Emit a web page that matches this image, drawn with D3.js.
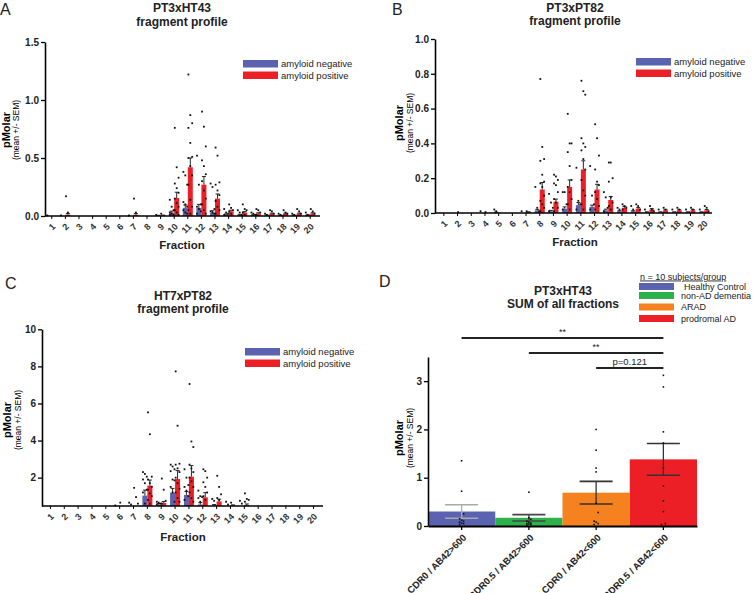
<!DOCTYPE html>
<html>
<head>
<meta charset="utf-8">
<script src="https://cdn.jsdelivr.net/npm/d3@7"></script>
<style>
body { margin: 0; background: #fff; }
text { font-family: "Liberation Sans", Arial, sans-serif; }
</style>
</head>
<body>
<div id="chart"></div>
<script>
// fraction categories (x axis of panels A-C)
var fractions = ["1","2","3","4","5","6","7","8","9","10","11","12","13","14","15","16","17","18","19","20"];

// Panel A: PT3xHT43
var aNegMean = [0,0,0,0,0,0,0,0,0.004,0.03,0.07,0.07,0.03,0.012,0.01,0.008,0.005,0.005,0.005,0.008];
var aNegSem  = [0,0,0,0,0,0,0,0,0.002,0.012,0.025,0.03,0.015,0.005,0.004,0.003,0.003,0.003,0.003,0.003];
var aPosMean = [0,0.012,0,0,0,0,0.012,0,0.005,0.155,0.42,0.27,0.15,0.04,0.03,0.022,0.02,0.02,0.02,0.022];
var aPosSem  = [0,0.01,0,0,0,0,0.01,0,0.003,0.05,0.08,0.07,0.04,0.01,0.008,0.006,0.005,0.005,0.005,0.006];
var aNegDots = [[0.005],[0.005],[],[],[],[],[0.005],[],[0.01],
  [0.14,0.08,0.05,0.03,0.02,0.01,0.01],
  [0.38,0.35,0.27,0.12,0.1,0.08,0.05,0.03,0.02],
  [0.52,0.27,0.1,0.08,0.06,0.04,0.02],
  [0.28,0.25,0.06,0.04,0.03,0.02],
  [0.06,0.03,0.02,0.01],[0.05,0.03,0.01],[0.03,0.02,0.01],[0.02,0.01],[0.02,0.01],[0.02,0.01],[0.03,0.01]];
var aPosDots = [[],[0.17,0.03],[],[],[],[],[0.15,0.03],[],[0.02],
  [0.76,0.42,0.33,0.28,0.24,0.2,0.15,0.11,0.08,0.05,0.03,0.01],
  [1.22,0.87,0.8,0.76,0.63,0.51,0.5,0.43,0.35,0.27,0.14,0.08,0.05,0.02],
  [0.9,0.77,0.6,0.48,0.43,0.36,0.3,0.22,0.15,0.1,0.05,0.02],
  [0.59,0.52,0.29,0.27,0.22,0.18,0.13,0.08,0.05,0.02],
  [0.1,0.07,0.05,0.04,0.02],[0.1,0.06,0.05,0.03,0.01],[0.06,0.05,0.03,0.01],[0.05,0.04,0.02],[0.05,0.03,0.02],[0.06,0.04,0.02],[0.06,0.04,0.02]];

// Panel B: PT3xPT82
var bNegMean = [0,0,0,0,0.003,0,0,0.015,0.01,0.025,0.045,0.035,0.015,0.01,0.01,0.005,0.005,0.005,0.005,0.005];
var bNegSem  = [0,0,0,0,0.002,0,0,0.006,0.005,0.01,0.015,0.01,0.007,0.003,0.003,0.002,0.002,0.002,0.002,0.002];
var bPosMean = [0,0,0,0,0,0,0.004,0.135,0.065,0.15,0.25,0.135,0.075,0.03,0.025,0.02,0.015,0.015,0.015,0.015];
var bPosSem  = [0,0,0,0,0,0,0.003,0.04,0.015,0.04,0.05,0.03,0.02,0.008,0.006,0.005,0.004,0.004,0.004,0.005];
var bNegDots = [[],[],[],[0.01],[0.02,0.01],[],[0.01],
  [0.15,0.03,0.01],[0.11,0.06,0.03,0.01],[0.12,0.12,0.05,0.02],[0.26,0.07,0.05,0.02],
  [0.27,0.1,0.05,0.02],[0.12,0.09,0.03,0.01],[0.03,0.02],[0.04,0.02],[0.02],[0.02],[0.02],[0.02],[0.02]];
var bPosDots = [[],[0.005],[],[0.005],[],[],[0.01],
  [0.77,0.38,0.31,0.3,0.22,0.18,0.17,0.15,0.1,0.07,0.05,0.03,0.01],
  [0.22,0.21,0.19,0.17,0.16,0.12,0.08,0.06,0.03,0.01],
  [0.57,0.4,0.4,0.35,0.27,0.19,0.15,0.12,0.08,0.05,0.02],
  [0.76,0.7,0.68,0.43,0.4,0.38,0.36,0.31,0.25,0.19,0.13,0.1,0.05,0.02],
  [0.51,0.43,0.33,0.25,0.18,0.16,0.12,0.08,0.04,0.02],
  [0.29,0.29,0.2,0.18,0.09,0.06,0.04,0.02],
  [0.05,0.04,0.03,0.02],[0.05,0.04,0.02],[0.04,0.02,0.01],[0.03,0.02],[0.03,0.02],[0.03,0.02],[0.04,0.03,0.01]];

// Panel C: HT7xPT82 (axis starts near 0.47)
var cNegMean = [0.1,0.1,0.1,0.1,0.1,0.3,0.35,1.03,0.55,1.19,1.07,0.55,0.5,0.4,0.45,0.1,0.1,0.1,0.1,0.1];
var cNegSem  = [0,0,0,0,0,0,0,0.3,0.05,0.23,0.18,0.1,0.05,0,0,0,0,0,0,0];
var cPosMean = [0.1,0.1,0.1,0.1,0.1,0.3,0.4,1.57,0.63,1.93,2.05,0.94,0.72,0.5,0.52,0.1,0.1,0.1,0.1,0.1];
var cPosSem  = [0,0,0,0,0,0,0,0.3,0.08,0.45,0.6,0.25,0.12,0.03,0.06,0,0,0,0,0];
var cNegDots = [[],[],[],[],[],[0.5],[0.65,0.55],
  [2.3,2.2,2.05,1.9,1.7,1.35,1.2,0.6],[0.7,0.65,0.6,0.55],
  [2.7,2.6,2.45,2.35,1.9,1.85,1.5,1.2,0.7],[2.45,2.0,1.6,1.5,1.3,1.0,0.8],
  [1.3,1.0,0.95,0.9,0.7],[0.85,0.75],[0.7,0.55],[0.75,0.6],[],[],[],[],[]];
var cPosDots = [[],[],[],[],[],[0.65],[1.45,0.95,0.6],
  [5.52,4.34,2.05,1.9,1.7,1.5,1.35,1.15,1.0,0.8,0.6],[1.95,1.35,0.75,0.6],
  [7.73,4.8,2.75,2.7,2.5,2.3,2.0,1.7,1.4,1.2,0.9,0.7],
  [7.05,3.95,3.65,2.7,2.5,2.3,2.0,1.8,1.5,1.2,0.9,0.7],
  [2.45,2.35,2.0,1.75,1.5,1.2,1.0,0.8],[2.1,1.5,1.1,0.9,0.8],[0.65],[1.15,0.85,0.8,0.7],[],[],[],[],[]];

// Panel D: sum of all fractions
var groups = ["CDR0 / AB42>600","CDR0.5 / AB42>600","CDR0 / AB42<600","CDR0.5 / AB42<600"];
var groupNames = ["Healthy Control","non-AD dementia","ARAD","prodromal AD"];
var sumMean = [0.30,0.17,0.69,1.38];
var sumSem = [0.14,0.065,0.235,0.33];
var sumDots = [
  [1.35,0.72,0.25,0.15,0.12,0.1,0.08,0.06,0.05,0.03],
  [0.7,0.17,0.14,0.1,0.08,0.06,0.05,0.04,0.03,0.02],
  [2.0,1.57,1.2,1.12,0.47,0.28,0.1,0.08,0.05,0.03],
  [3.12,2.88,1.95,1.72,1.2,0.83,0.52,0.3,0.05,0.03]];
var sigFrom = [0,1,2];
var sigLabels = ["**","**","p=0.121"];

var blue = "#5b62b0", red = "#ed1f26";
var groupColors = ["#5b62b0","#2db24b","#f6821f","#ed1f26"];
var errColors = ["#aaaaaa","#444","#333","#333"];

var svg = d3.select("#chart").append("svg")
  .attr("width", 753).attr("height", 593);

function panelLetter(txt, x, y) {
  svg.append("text").attr("x", x).attr("y", y)
    .style("font-size", "16px").attr("fill", "#222")
    .text(txt);
}

function title2(lines, cx, y1, y2) {
  [y1, y2].forEach(function(yy, i) {
    svg.append("text").attr("x", cx).attr("y", yy)
      .attr("text-anchor", "middle").style("font-size", "12px").style("font-weight", "bold")
      .attr("fill", "#222").text(lines[i]);
  });
}

function yLabel(x1, x2, cy) {
  svg.append("text").attr("transform", "translate(" + x1 + "," + cy + ") rotate(-90)")
    .attr("text-anchor", "middle").style("font-size", "11px").style("font-weight", "bold")
    .text("pMolar");
  svg.append("text").attr("transform", "translate(" + x2 + "," + cy + ") rotate(-90)")
    .attr("text-anchor", "middle").style("font-size", "8.5px")
    .text("(mean +/-  SEM)");
}

function drawFragment(p) {
  var g = svg.append("g");
  var x = d3.scaleBand().domain(fractions).range(p.xRange).padding(0);
  var y = d3.scaleLinear().domain(p.domain).range(p.yRange);
  var d0 = p.domain[0];
  var bw = 5;

  var rows = fractions.map(function(f, i) {
    return [
      {f: f, side: -1, m: p.negMean[i], s: p.negSem[i], dots: p.negDots[i], c: blue},
      {f: f, side: 1, m: p.posMean[i], s: p.posSem[i], dots: p.posDots[i], c: red}
    ];
  });
  var bars = [].concat.apply([], rows);
  function bx(d) { return x(d.f) + x.bandwidth() / 2 + (d.side < 0 ? -bw : 0); }

  g.selectAll("rect.bar").data(bars).enter().append("rect")
    .attr("class", "bar")
    .attr("x", bx)
    .attr("width", bw)
    .attr("y", function(d) { return y(Math.max(d.m, d0)); })
    .attr("height", function(d) { return y(d0) - y(Math.max(d.m, d0)); })
    .attr("fill", function(d) { return d.c; });

  // error bars (mean + SEM)
  var eb = bars.filter(function(d) { return d.s > 0 && d.m >= d0; });
  g.selectAll("line.err").data(eb).enter().append("line")
    .attr("x1", function(d) { return bx(d) + bw / 2; })
    .attr("x2", function(d) { return bx(d) + bw / 2; })
    .attr("y1", function(d) { return y(d.m); })
    .attr("y2", function(d) { return y(d.m + d.s); })
    .attr("stroke", "#111").attr("stroke-width", 0.9);
  g.selectAll("line.cap").data(eb).enter().append("line")
    .attr("x1", function(d) { return bx(d) + 0.5; })
    .attr("x2", function(d) { return bx(d) + bw - 0.5; })
    .attr("y1", function(d) { return y(d.m + d.s); })
    .attr("y2", function(d) { return y(d.m + d.s); })
    .attr("stroke", "#111").attr("stroke-width", 0.9);

  // individual points
  var pts = [];
  bars.forEach(function(d) {
    d.dots.forEach(function(v, j) {
      if (v >= d0) pts.push({x: bx(d) + bw / 2 + ((j % 3) - 1) * 1.9, v: v});
    });
  });
  g.selectAll("rect.dot").data(pts).enter().append("rect")
    .attr("x", function(d) { return d.x - 0.9; })
    .attr("y", function(d) { return y(d.v) - 0.9; })
    .attr("width", 1.8).attr("height", 1.8)
    .attr("fill", "#111");

  // axes
  var ya = g.append("g").attr("transform", "translate(" + p.axisX + ",0)")
    .call(d3.axisLeft(y).tickValues(p.ticks).tickFormat(d3.format(p.fmt)).tickSize(4).tickSizeOuter(0));
  ya.select(".domain").attr("stroke-width", 1.6);
  ya.selectAll(".tick line").attr("stroke-width", 1.3);
  ya.selectAll("text").attr("x", -6).style("font-size", "10px").style("font-weight", "bold")
    .style("font-family", "'Liberation Sans', Arial, sans-serif").attr("fill", "#222");

  var axY = p.yRange[0];
  var xa = g.append("g").attr("transform", "translate(0," + axY + ")")
    .call(d3.axisBottom(x).tickSize(3).tickSizeOuter(0));
  xa.select(".domain").attr("d", "M" + p.axisX + ",0H" + p.xEnd).attr("stroke-width", 1.6);
  xa.selectAll(".tick line").attr("stroke-width", 1);
  xa.selectAll("text")
    .attr("x", 0).attr("y", 0).attr("dy", "0.35em")
    .attr("text-anchor", "end")
    .attr("transform", "translate(2,9) rotate(-45)")
    .style("font-size", "9px").style("font-weight", "bold")
    .style("font-family", "'Liberation Sans', Arial, sans-serif").attr("fill", "#333");

  svg.append("text").attr("x", p.titleX).attr("y", p.fracY)
    .attr("text-anchor", "middle").style("font-size", "11.5px").style("font-weight", "bold")
    .attr("fill", "#222").text("Fraction");

  // legend
  var lg = [["amyloid negative", blue], ["amyloid positive", red]];
  lg.forEach(function(l, i) {
    svg.append("rect").attr("x", p.legX).attr("y", p.legY + i * 11.5)
      .attr("width", 35).attr("height", 7.5).attr("fill", l[1]);
    svg.append("text").attr("x", p.legX + 38).attr("y", p.legY + 7 + i * 11.5)
      .style("font-size", "9.5px").attr("fill", "#222").text(l[0]);
  });
}

// ---- Panel A
panelLetter("A", 0, 15);
title2(["PT3xHT43", "fragment profile"], 182, 12, 25.5);
yLabel(10, 19, 130);
drawFragment({
  negMean: aNegMean, negSem: aNegSem, posMean: aPosMean, posSem: aPosSem,
  negDots: aNegDots, posDots: aPosDots,
  xRange: [45, 317], axisX: 45, xEnd: 320, domain: [0, 1.5], yRange: [216, 42],
  ticks: [0, 0.5, 1, 1.5], fmt: ".1f", titleX: 182, fracY: 249, legX: 243, legY: 60
});

// ---- Panel B
panelLetter("B", 392, 15);
title2(["PT3xPT82", "fragment profile"], 575, 11.5, 24.5);
yLabel(403, 413, 123);
drawFragment({
  negMean: bNegMean, negSem: bNegSem, posMean: bPosMean, posSem: bPosSem,
  negDots: bNegDots, posDots: bPosDots,
  xRange: [437, 711], axisX: 435, xEnd: 712, domain: [0, 1], yRange: [213, 39],
  ticks: [0, 0.2, 0.4, 0.6, 0.8, 1], fmt: ".1f", titleX: 575, fracY: 246, legX: 636, legY: 58
});

// ---- Panel C
panelLetter("C", 5, 289);
title2(["HT7xPT82", "fragment profile"], 183, 300, 313);
yLabel(11, 21, 420);
drawFragment({
  negMean: cNegMean, negSem: cNegSem, posMean: cPosMean, posSem: cPosSem,
  negDots: cNegDots, posDots: cPosDots,
  xRange: [43.5, 320.5], axisX: 42, xEnd: 323, domain: [0.47, 10], yRange: [506, 329.3],
  ticks: [2, 4, 6, 8, 10], fmt: "d", titleX: 183, fracY: 541, legX: 245, legY: 348
});

// ---- Panel D
panelLetter("D", 379, 287);
title2(["PT3xHT43", "SUM of all fractions"], 563, 295, 308);
yLabel(403, 413, 438);

var xD = d3.scaleBand().domain(groups).range([428, 697]).padding(0);
var yD = d3.scaleLinear().domain([0, 3.5]).range([526, 357]);
var gD = svg.append("g");

gD.selectAll("rect.sum").data(groups).enter().append("rect")
  .attr("x", function(d) { return xD(d); })
  .attr("width", xD.bandwidth())
  .attr("y", function(d, i) { return yD(sumMean[i]); })
  .attr("height", function(d, i) { return yD(0) - yD(sumMean[i]); })
  .attr("fill", function(d, i) { return groupColors[i]; });

groups.forEach(function(gname, i) {
  var cx = xD(gname) + xD.bandwidth() / 2;
  var lo = yD(sumMean[i] - sumSem[i]), hi = yD(sumMean[i] + sumSem[i]);
  var capW = 33;
  gD.append("line").attr("x1", cx).attr("x2", cx).attr("y1", lo).attr("y2", hi)
    .attr("stroke", errColors[i]).attr("stroke-width", 1.3);
  [lo, hi].forEach(function(yy) {
    gD.append("line").attr("x1", cx - capW / 2).attr("x2", cx + capW / 2)
      .attr("y1", yy).attr("y2", yy)
      .attr("stroke", errColors[i]).attr("stroke-width", 1.6);
  });
  sumDots[i].forEach(function(v, j) {
    gD.append("rect")
      .attr("x", cx - 0.8 + (v < 0.3 ? ((j % 3) - 1) * 2 : 0))
      .attr("y", yD(v) - 0.8)
      .attr("width", 1.6).attr("height", 1.6).attr("fill", "#111");
  });
});

var yaD = gD.append("g").attr("transform", "translate(428,0)")
  .call(d3.axisLeft(yD).tickValues([0, 1, 2, 3]).tickFormat(d3.format("d")).tickSize(4).tickSizeOuter(0));
yaD.select(".domain").attr("stroke-width", 1.6);
yaD.selectAll(".tick line").attr("stroke-width", 1.3);
yaD.selectAll("text").attr("x", -6).style("font-size", "10px").style("font-weight", "bold")
  .style("font-family", "'Liberation Sans', Arial, sans-serif").attr("fill", "#222");

var xaD = gD.append("g").attr("transform", "translate(0,526)")
  .call(d3.axisBottom(xD).tickSize(4).tickSizeOuter(0));
xaD.select(".domain").attr("stroke-width", 1.8);
xaD.selectAll(".tick line").attr("stroke-width", 1.3);
xaD.selectAll("text")
  .attr("x", 0).attr("y", 0).attr("dy", "0.35em")
  .attr("text-anchor", "end")
  .attr("transform", "translate(3,10) rotate(-45)")
  .style("font-size", "9.5px").style("font-weight", "bold")
  .style("font-family", "'Liberation Sans', Arial, sans-serif").attr("fill", "#222");

// significance brackets
var sigY = [338, 353, 368];
var toX = xD(groups[3]) + xD.bandwidth() / 2;
sigFrom.forEach(function(fi, i) {
  var fx = xD(groups[fi]) + xD.bandwidth() / 2;
  gD.append("line").attr("x1", fx).attr("x2", toX).attr("y1", sigY[i]).attr("y2", sigY[i])
    .attr("stroke", "#222").attr("stroke-width", 2);
  gD.append("text").attr("x", (fx + toX) / 2).attr("y", sigY[i] - 3)
    .attr("text-anchor", "middle")
    .style("font-size", sigLabels[i].length > 2 ? "9.5px" : "9px")
    .attr("fill", "#222").text(sigLabels[i]);
});

// legend D
svg.append("text").attr("x", 640).attr("y", 279.5)
  .style("font-size", "9px").style("text-decoration", "underline").attr("fill", "#222")
  .text("n = 10 subjects/group");
var legRows = [283, 292, 303.5, 315];
groupNames.forEach(function(nm, i) {
  svg.append("rect").attr("x", 639).attr("y", legRows[i]).attr("width", 35).attr("height", 7)
    .attr("fill", groupColors[i]);
  svg.append("text").attr("x", i === 0 ? 684 : 681).attr("y", legRows[i] + 6.5)
    .style("font-size", "9px").attr("fill", "#222").text(nm);
});
</script>
</body>
</html>
